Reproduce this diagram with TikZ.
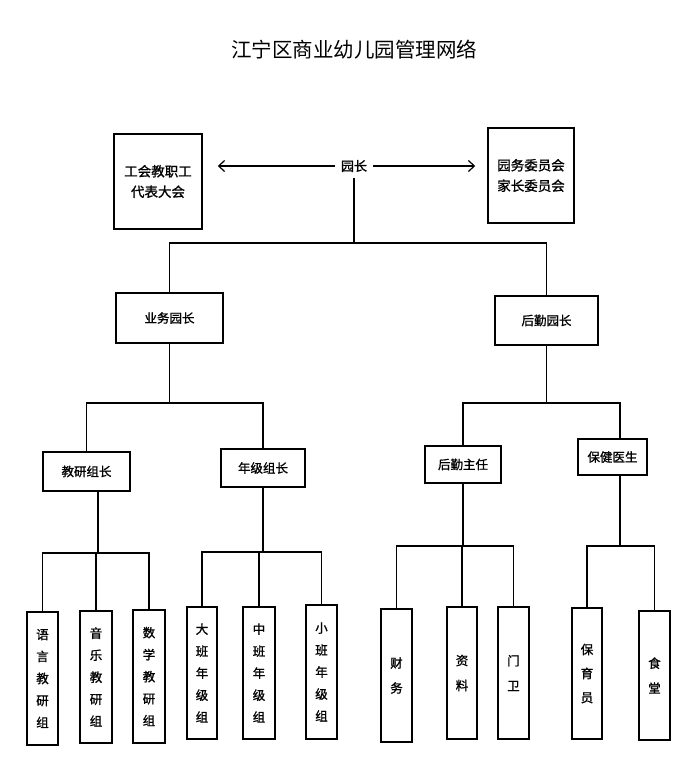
\documentclass[tikz,border=0pt]{standalone}
\usepackage{fontspec}
\setmainfont{Noto Sans CJK SC}
\newfontfamily\lblfont[FakeBold=1.2]{Noto Sans CJK SC}
\usetikzlibrary{arrows.meta}
\tikzset{
  box/.style={draw, line width=1.5pt, inner sep=0pt, align=center, font=\lblfont\fontsize{12.5}{15}\selectfont},
  topbox/.style={box, font=\lblfont\fontsize{13.5}{20.5}\selectfont},
  vbox/.style={box, font=\lblfont\fontsize{12.5}{22}\selectfont},
  ln/.style={line width=1.2pt},
  arr/.style={ln, -{Straight Barb[length=6pt,width=11pt,line width=1.2pt]}},
}
\begin{document}
\begin{tikzpicture}[x=1pt,y=-1pt]
\useasboundingbox (0,0) rectangle (674,774);
\fill[white] (0,0) rectangle (674,774);
% title
\node[font=\fontsize{20.5}{24}\selectfont] (title) at (354,50) {江宁区商业幼儿园管理网络};
% top row
\node[inner sep=6pt, font=\lblfont\fontsize{13}{15}\selectfont] (yz) at (354,166) {园长};
\node[topbox, minimum width=88pt, minimum height=95pt] (lb) at (158,181.5) {工会教职工\\代表大会};
\node[topbox, minimum width=86pt, minimum height=95pt] (rb) at (531,175.5) {园务委员会\\家长委员会};
\draw[arr, shorten >=15pt] (yz) -- (yz -| lb.east);
\draw[arr, shorten >=12pt] (yz) -- (yz -| rb.west);
% level 1
\node[box, minimum width=107pt, minimum height=50pt] (yw) at (169.5,318) {业务园长};
\node[box, minimum width=103pt, minimum height=49pt] (hq) at (546.5,320.5) {后勤园长};
% level 2
\node[box, minimum width=87pt, minimum height=39pt] (jy) at (86.5,471.5) {教研组长};
\node[box, minimum width=84pt, minimum height=38pt] (nj) at (263,468) {年级组长};
\node[box, minimum width=76pt, minimum height=37pt] (hz) at (463,464.5) {后勤主任};
\node[box, minimum width=69pt, minimum height=36pt] (bj) at (612.5,457) {保健医生};
% level 3
\node[vbox, minimum width=31pt, minimum height=133pt] (yy) at (42.5,678.5) {语\\言\\教\\研\\组};
\node[vbox, minimum width=32pt, minimum height=132pt] (yl) at (96,677) {音\\乐\\教\\研\\组};
\node[vbox, minimum width=32pt, minimum height=133pt] (sx) at (149,676.5) {数\\学\\教\\研\\组};
\node[vbox, minimum width=30pt, minimum height=132pt] (db) at (202,673) {大\\班\\年\\级\\组};
\node[vbox, minimum width=32pt, minimum height=132pt] (zb) at (259,673) {中\\班\\年\\级\\组};
\node[vbox, minimum width=31pt, minimum height=134pt] (xb) at (321.5,672) {小\\班\\年\\级\\组};
\node[vbox, minimum width=31pt, minimum height=133pt, font=\lblfont\fontsize{12.5}{25}\selectfont] (cw) at (396.5,675.5) {财\\务};
\node[vbox, minimum width=30pt, minimum height=132pt, font=\lblfont\fontsize{12.5}{25}\selectfont] (zl) at (462,673) {资\\料};
\node[vbox, minimum width=31pt, minimum height=132pt, font=\lblfont\fontsize{12.5}{25}\selectfont] (mw) at (513.5,673) {门\\卫};
\node[vbox, minimum width=30pt, minimum height=131pt, font=\lblfont\fontsize{12.5}{24}\selectfont] (by) at (587,673.5) {保\\育\\员};
\node[vbox, minimum width=31pt, minimum height=129pt, font=\lblfont\fontsize{12.5}{25}\selectfont] (st) at (654.5,675.5) {食\\堂};
% bus coordinates
\coordinate (b1) at (0,243);
\coordinate (b2) at (0,403);
\coordinate (b3a) at (0,553);
\coordinate (b3b) at (0,552);
\coordinate (b3c) at (0,546);
\coordinate (jys) at ([xshift=11.5pt]jy.south);
\coordinate (bjt) at ([xshift=7.5pt]bj.north);
\coordinate (bjs) at ([xshift=7.5pt]bj.south);
% connectors level 0-1
\draw[ln] (yz) -- (yz |- b1);
\draw[ln] (yw.north) -- (yw.north |- b1) -- (hq.north |- b1) -- (hq.north);
% level 1-2
\draw[ln] (yw.south) -- (yw.south |- b2);
\draw[ln] (jy.north) -- (jy.north |- b2) -- (nj.north |- b2) -- (nj.north);
\draw[ln] (hq.south) -- (hq.south |- b2);
\draw[ln] (hz.north) -- (hz.north |- b2) -- (bjt |- b2) -- (bjt);
% level 2-3
\draw[ln] (jys) -- (jys |- b3a);
\draw[ln] (yy.north) -- (yy.north |- b3a) -- (sx.north |- b3a) -- (sx.north);
\draw[ln] (yl.north |- b3a) -- (yl.north);
\draw[ln] (nj.south) -- (nj.south |- b3b);
\draw[ln] (db.north) -- (db.north |- b3b) -- (xb.north |- b3b) -- (xb.north);
\draw[ln] (zb.north |- b3b) -- (zb.north);
\draw[ln] (hz.south) -- (hz.south |- b3c);
\draw[ln] (cw.north) -- (cw.north |- b3c) -- (mw.north |- b3c) -- (mw.north);
\draw[ln] (zl.north |- b3c) -- (zl.north);
\draw[ln] (bjs) -- (bjs |- b3c);
\draw[ln] (by.north) -- (by.north |- b3c) -- (st.north |- b3c) -- (st.north);
\end{tikzpicture}
\end{document}
